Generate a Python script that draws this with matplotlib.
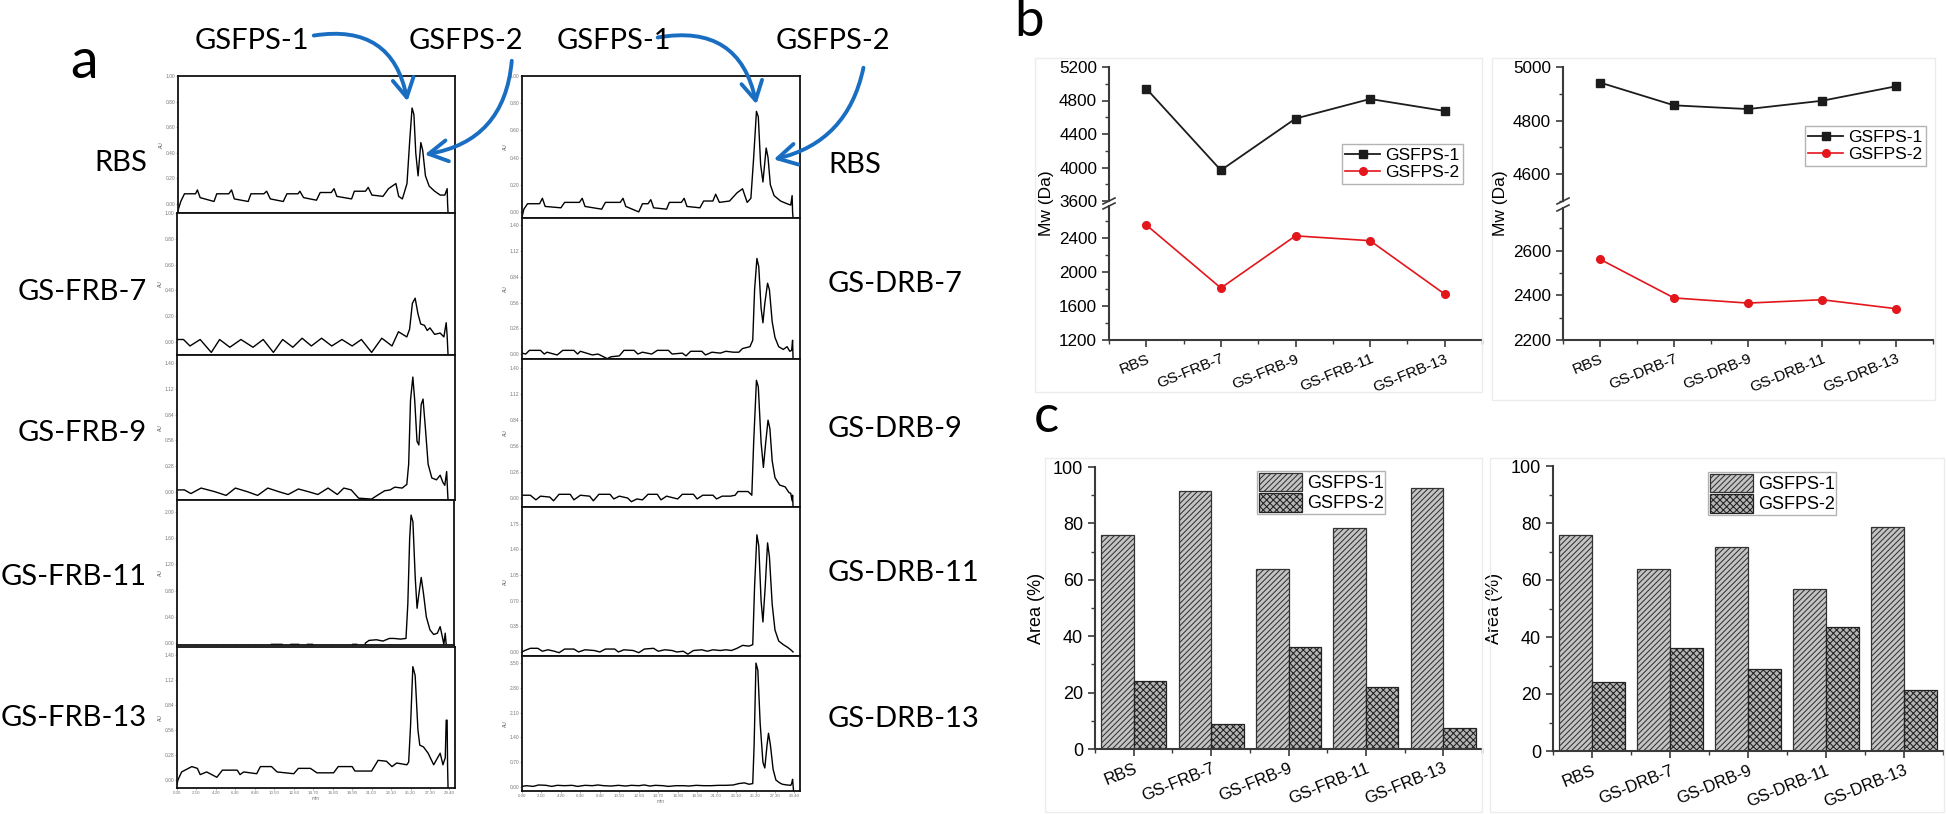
import numpy as np
import matplotlib.pyplot as plt
from matplotlib.patches import FancyArrowPatch, Rectangle
from matplotlib.lines import Line2D
from matplotlib.ticker import AutoMinorLocator, MultipleLocator

plt.rcParams['font.family'] = ['Liberation Sans', 'DejaVu Sans']
plt.rcParams['hatch.linewidth'] = 0.75

W, H = 1946, 814

# ---------- panel a: chromatograms (time in min, response in AU) ----------
frb_names = ['RBS', 'GS-FRB-7', 'GS-FRB-9', 'GS-FRB-11', 'GS-FRB-13']
drb_names = ['RBS', 'GS-DRB-7', 'GS-DRB-9', 'GS-DRB-11', 'GS-DRB-13']

rbs_frb = [(0.0, -0.05), (0.3, 0.02), (0.7, 0.08), (1.9, 0.08), (2.1, 0.11), (2.4, 0.05), (3.9, 0.02),
           (4.2, 0.08), (5.5, 0.08), (5.8, 0.11), (6.1, 0.04), (7.6, 0.02), (7.9, 0.08), (9.3, 0.08),
           (9.6, 0.10), (10.0, 0.04), (11.4, 0.02), (11.8, 0.08), (13.0, 0.08), (13.2, 0.10), (13.6, 0.05),
           (15.0, 0.03), (15.4, 0.09), (16.6, 0.09), (16.9, 0.12), (17.2, 0.06), (18.8, 0.04), (19.1, 0.10),
           (20.3, 0.10), (20.6, 0.13), (21.0, 0.07), (22.2, 0.06), (22.8, 0.12), (23.6, 0.16), (23.9, 0.06),
           (24.3, 0.04), (24.8, 0.16), (25.1, 0.50), (25.35, 0.75), (25.55, 0.70), (25.75, 0.40), (26.0, 0.22),
           (26.3, 0.48), (26.5, 0.42), (26.8, 0.22), (27.2, 0.14), (27.8, 0.10), (28.4, 0.07), (28.9, 0.07),
           (29.15, 0.12), (29.2, 0.00), (29.25, -0.07)]
frb7 = [(0.0, 0.02), (0.7, 0.02), (1.4, -0.03), (2.5, 0.02), (3.7, -0.08), (4.6, 0.02), (5.7, -0.04),
        (6.9, 0.02), (8.2, -0.04), (9.3, 0.02), (10.4, -0.08), (11.4, 0.02), (12.5, -0.04), (13.5, 0.03),
        (14.5, -0.03), (15.6, 0.03), (16.7, -0.03), (17.8, 0.02), (18.9, -0.03), (19.9, 0.02), (21.0, -0.08),
        (22.1, 0.03), (23.2, -0.03), (23.9, 0.08), (24.8, 0.04), (25.1, 0.10), (25.4, 0.30), (25.7, 0.34),
        (26.0, 0.22), (26.3, 0.14), (26.7, 0.13), (27.0, 0.09), (27.3, 0.11), (27.8, 0.06), (28.4, 0.07),
        (28.8, 0.04), (29.05, 0.15), (29.15, 0.05), (29.25, -0.10)]
frb9 = [(0.0, 0.02), (0.8, 0.02), (1.5, -0.02), (2.6, 0.04), (4.1, 0.00), (5.3, -0.04), (6.3, 0.04),
        (7.6, 0.00), (8.7, -0.04), (9.8, 0.04), (11.0, 0.00), (12.0, -0.03), (13.1, 0.03), (14.2, 0.00),
        (15.2, -0.03), (16.3, 0.04), (17.3, -0.03), (18.0, 0.04), (18.8, 0.02), (19.6, -0.07), (21.0, -0.08),
        (21.6, -0.04), (22.4, 0.01), (23.0, 0.02), (23.5, 0.05), (24.3, 0.04), (24.8, 0.08), (25.0, 0.30),
        (25.2, 1.00), (25.45, 1.25), (25.65, 1.00), (25.9, 0.55), (26.1, 0.51), (26.35, 0.95), (26.55, 1.01),
        (26.8, 0.70), (27.1, 0.30), (27.5, 0.15), (28.0, 0.13), (28.4, 0.18), (28.7, 0.10), (28.9, 0.07),
        (29.1, 0.22), (29.2, 0.00), (29.25, -0.09)]
frb11 = [(0.0, -0.20), (10.1, -0.20), (10.2, -0.02), (11.4, -0.02), (11.5, -0.20), (12.2, -0.20),
         (12.3, -0.02), (13.2, -0.02), (13.3, -0.20), (14.0, -0.20), (14.1, -0.02), (14.7, -0.02),
         (14.8, -0.20), (18.9, -0.20), (19.0, -0.02), (19.5, -0.02), (19.6, -0.20), (20.2, -0.20),
         (20.4, 0.00), (20.8, 0.04), (21.6, 0.05), (22.3, 0.03), (23.0, 0.07), (23.5, 0.07), (24.2, 0.06),
         (24.8, 0.07), (25.0, 0.60), (25.2, 1.60), (25.35, 1.95), (25.55, 1.85), (25.8, 1.00), (26.0, 0.53),
         (26.2, 0.75), (26.45, 1.00), (26.7, 0.75), (27.0, 0.40), (27.4, 0.20), (27.8, 0.13), (28.2, 0.15),
         (28.5, 0.25), (28.7, 0.12), (28.9, -0.02), (29.05, 0.15), (29.15, -0.02), (29.25, -0.10)]
frb13 = [(0.0, -0.05), (0.1, 0.00), (0.5, 0.09), (1.6, 0.15), (2.2, 0.13), (2.5, 0.06), (3.2, 0.09),
         (4.3, 0.03), (4.9, 0.11), (6.5, 0.11), (6.8, 0.06), (7.2, 0.09), (8.6, 0.07), (9.0, 0.15),
         (10.2, 0.15), (10.8, 0.09), (12.6, 0.07), (13.1, 0.13), (14.4, 0.13), (15.1, 0.08), (16.9, 0.08),
         (17.4, 0.15), (18.9, 0.15), (19.2, 0.10), (21.0, 0.10), (21.7, 0.22), (22.6, 0.21), (23.2, 0.15),
         (23.7, 0.19), (24.8, 0.17), (25.0, 0.20), (25.2, 0.60), (25.45, 1.27), (25.7, 1.17), (26.0, 0.56),
         (26.2, 0.39), (26.6, 0.37), (27.1, 0.30), (27.7, 0.17), (28.4, 0.30), (28.7, 0.17), (28.95, 0.25),
         (29.05, 0.67), (29.15, 0.67), (29.2, 0.15), (29.25, -0.09)]

rbs_drb = [(0.0, -0.04), (0.2, 0.02), (0.6, 0.06), (1.9, 0.06), (2.2, 0.10), (2.5, 0.04), (4.2, 0.03),
           (4.6, 0.07), (6.2, 0.07), (6.5, 0.10), (6.8, 0.04), (8.6, 0.02), (9.0, 0.07), (10.6, 0.07),
           (10.9, 0.10), (11.2, 0.04), (12.6, 0.00), (13.0, 0.06), (13.6, 0.06), (13.9, 0.09), (14.2, 0.03),
           (15.6, 0.02), (15.9, 0.07), (17.2, 0.07), (17.5, 0.10), (17.8, 0.04), (19.2, 0.03), (19.6, 0.08),
           (20.6, 0.08), (20.9, 0.13), (21.3, 0.07), (22.4, 0.08), (23.2, 0.14), (23.8, 0.17), (24.3, 0.07),
           (24.7, 0.10), (25.0, 0.40), (25.3, 0.74), (25.5, 0.70), (25.75, 0.35), (26.0, 0.22), (26.35, 0.47),
           (26.55, 0.40), (26.8, 0.20), (27.2, 0.12), (27.9, 0.08), (28.6, 0.06), (29.0, 0.05), (29.15, 0.12),
           (29.2, 0.00), (29.25, -0.045)]
drb7 = [(0.0, 0.01), (0.4, 0.00), (0.8, 0.04), (2.0, 0.04), (2.4, 0.00), (2.7, 0.02), (3.8, -0.01),
        (4.4, 0.04), (5.6, 0.04), (6.0, 0.00), (6.3, 0.03), (7.6, -0.01), (8.2, 0.00), (9.2, -0.05),
        (9.6, -0.03), (10.5, -0.02), (11.0, 0.04), (12.1, 0.04), (12.5, 0.00), (13.0, 0.02), (14.0, 0.00),
        (14.6, 0.04), (15.8, 0.04), (16.2, 0.00), (17.3, 0.01), (17.7, -0.02), (18.2, 0.03), (19.4, 0.03),
        (19.8, -0.01), (20.5, 0.02), (21.4, 0.01), (22.0, 0.03), (22.8, 0.02), (23.4, 0.02), (23.8, 0.06),
        (24.6, 0.08), (24.9, 0.15), (25.1, 0.70), (25.35, 1.04), (25.55, 0.95), (25.8, 0.50), (26.0, 0.34),
        (26.2, 0.55), (26.5, 0.77), (26.7, 0.70), (27.0, 0.35), (27.3, 0.18), (27.7, 0.08), (28.2, 0.05),
        (28.6, 0.08), (28.9, 0.03), (29.1, 0.04), (29.2, 0.15), (29.25, -0.05)]
drb9 = [(0.0, 0.03), (0.9, 0.03), (1.5, -0.02), (2.0, 0.02), (3.0, 0.01), (3.4, -0.03), (4.0, 0.04),
        (5.2, 0.04), (5.6, -0.02), (6.3, 0.03), (7.3, 0.02), (7.7, -0.03), (8.3, 0.04), (9.5, 0.04),
        (9.9, -0.01), (10.5, 0.02), (11.4, 0.00), (11.8, -0.04), (12.4, -0.01), (13.0, -0.02), (13.6, 0.04),
        (14.6, 0.04), (15.0, -0.02), (15.6, 0.02), (16.8, -0.01), (17.3, 0.04), (18.5, 0.04), (18.9, -0.01),
        (19.5, 0.03), (20.6, 0.03), (21.0, -0.01), (21.6, 0.02), (22.5, 0.02), (23.0, 0.03), (23.3, 0.07),
        (24.4, 0.07), (24.8, 0.03), (25.0, 0.60), (25.3, 1.27), (25.5, 1.20), (25.8, 0.60), (26.05, 0.33),
        (26.3, 0.60), (26.55, 0.84), (26.75, 0.75), (27.0, 0.40), (27.3, 0.22), (27.8, 0.14), (28.4, 0.12),
        (28.8, 0.06), (29.0, 0.05), (29.15, -0.03), (29.2, 0.03), (29.25, -0.09)]
drb11 = [(0.0, 0.00), (0.3, 0.02), (0.9, 0.05), (1.7, 0.05), (2.2, 0.01), (2.8, 0.03), (3.5, 0.01),
         (4.0, -0.01), (4.6, 0.04), (5.6, 0.04), (6.1, 0.00), (6.8, 0.03), (7.8, 0.02), (8.4, 0.00),
         (9.0, 0.04), (10.0, 0.04), (10.4, 0.00), (11.0, 0.03), (12.0, 0.02), (12.6, -0.01), (13.2, 0.04),
         (14.2, 0.05), (14.7, 0.01), (15.4, 0.03), (16.2, 0.02), (16.7, 0.00), (17.4, 0.01), (17.9, -0.03),
         (18.5, 0.02), (19.4, 0.03), (20.0, 0.01), (20.6, 0.03), (21.4, 0.02), (22.0, 0.03), (22.6, 0.02),
         (23.2, 0.05), (23.8, 0.09), (24.5, 0.08), (24.9, 0.10), (25.1, 0.90), (25.35, 1.60), (25.55, 1.45),
         (25.8, 0.70), (26.0, 0.41), (26.25, 0.90), (26.5, 1.49), (26.7, 1.30), (27.0, 0.65), (27.3, 0.30),
         (27.7, 0.15), (28.2, 0.10), (28.7, 0.06), (29.0, 0.03), (29.25, 0.00)]
drb13 = [(0.0, 0.02), (0.5, 0.04), (1.2, 0.02), (1.8, 0.06), (2.6, 0.05), (3.2, 0.02), (3.8, 0.05),
         (4.6, 0.04), (5.4, 0.05), (6.0, 0.02), (6.8, 0.05), (7.6, 0.04), (8.2, 0.06), (8.8, 0.04),
         (9.6, 0.03), (10.4, 0.05), (11.2, 0.03), (11.8, 0.05), (12.6, 0.04), (13.2, 0.06), (13.8, 0.03),
         (14.4, 0.05), (15.2, 0.04), (15.8, 0.02), (16.6, 0.04), (17.4, 0.04), (18.0, 0.03), (18.8, 0.05),
         (19.6, 0.04), (20.4, 0.04), (21.2, 0.05), (22.0, 0.05), (22.8, 0.06), (23.4, 0.10), (24.0, 0.12),
         (24.5, 0.08), (24.9, 0.10), (25.05, 1.20), (25.25, 3.50), (25.45, 3.30), (25.7, 1.80), (26.0, 0.70),
         (26.2, 0.54), (26.45, 1.20), (26.6, 1.52), (26.8, 1.20), (27.1, 0.50), (27.4, 0.20), (27.8, 0.12),
         (28.1, 0.08), (28.6, 0.06), (29.0, 0.05), (29.1, 0.10), (29.2, 0.22), (29.3, -0.10)]

frb_traces = [rbs_frb, frb7, frb9, frb11, frb13]
drb_traces = [rbs_drb, drb7, drb9, drb11, drb13]

# ---------- panel b: Mw (Da) ----------
frb_cats = ['RBS', 'GS-FRB-7', 'GS-FRB-9', 'GS-FRB-11', 'GS-FRB-13']
drb_cats = ['RBS', 'GS-DRB-7', 'GS-DRB-9', 'GS-DRB-11', 'GS-DRB-13']
mw_frb_1 = [4942, 3967, 4584, 4818, 4675]
mw_frb_2 = [2556, 1813, 2428, 2371, 1741]
mw_drb_1 = [4942, 4857, 4843, 4874, 4928]
mw_drb_2 = [2561, 2388, 2365, 2380, 2340]

# ---------- panel c: peak area (%) ----------
area_frb_1 = [75.8, 91.5, 63.7, 78.4, 92.5]
area_frb_2 = [24.2, 8.8, 36.3, 21.9, 7.4]
area_drb_1 = [75.9, 63.8, 71.6, 56.9, 78.7]
area_drb_2 = [24.3, 36.3, 28.8, 43.4, 21.3]

series = ['GSFPS-1', 'GSFPS-2']

fig = plt.figure(figsize=(W / 100, H / 100), dpi=100)


def px_axes(x0, y0, x1, y1):
    return fig.add_axes([x0 / W, 1 - y1 / H, (x1 - x0) / W, (y1 - y0) / H])


def fx(x):
    return x / W


def fy(y):
    return 1 - y / H


calibri = ['Lato', 'DejaVu Sans']

# chromatogram layout
frb_boxes = [(178, 76, 455, 213), (177, 213, 455, 355), (177, 355, 455, 500), (177, 500, 454, 645), (177, 647, 455, 788)]
drb_boxes = [(522, 76, 800, 218), (522, 218, 800, 359), (522, 359, 800, 507), (522, 507, 800, 656), (522, 656, 800, 791)]
frb_ylims = [(-0.07, 1.0), (-0.1, 1.0), (-0.09, 1.49), (-0.03, 2.18), (-0.09, 1.49)]
drb_ylims = [(-0.045, 1.0), (-0.054, 1.48), (-0.097, 1.50), (-0.055, 1.98), (-0.11, 3.70)]
frb_yt = [[0, .2, .4, .6, .8, 1.0], [0, .2, .4, .6, .8, 1.0], [0, .28, .56, .84, 1.12, 1.40],
          [0, .4, .8, 1.2, 1.6, 2.0], [0, .28, .56, .84, 1.12, 1.40]]
drb_yt = [[0, .2, .4, .6, .8, 1.0], [0, .28, .56, .84, 1.12, 1.40], [0, .28, .56, .84, 1.12, 1.40],
          [0, .35, .7, 1.05, 1.4, 1.75], [0, .7, 1.4, 2.1, 2.8, 3.5]]
frb_label_y = [163, 292, 433, 577, 718]
drb_label_y = [163, 282, 427, 571, 717]


def chrom(box, trace, ylim, yt, bottom):
    ax = px_axes(*box)
    xs = [p[0] for p in trace]
    ys = [p[1] for p in trace]
    ax.plot(xs, ys, color='black', lw=1.0)
    ax.set_xlim(0, 30)
    ax.set_ylim(*ylim)
    ax.set_yticks(yt)
    ax.set_yticklabels(['%.2f' % v for v in yt], fontsize=3.5, color='#777')
    ax.set_xticks(np.arange(0, 30.1, 2.1))
    if bottom:
        ax.set_xticklabels(['%.2f' % v for v in np.arange(0, 30.1, 2.1)], fontsize=3.2, color='#777')
        ax.set_xlabel('min', fontsize=3.5, color='#777', labelpad=1)
    else:
        ax.set_xticklabels([])
    ax.tick_params(length=1.2, width=0.4, pad=1, colors='#777')
    ax.set_ylabel('AU', fontsize=3.5, color='#555', labelpad=1)
    for s in ax.spines.values():
        s.set_linewidth(1.3)
        s.set_color('#111')
    return ax


for i in range(5):
    chrom(frb_boxes[i], frb_traces[i], frb_ylims[i], frb_yt[i], i == 4)
    chrom(drb_boxes[i], drb_traces[i], drb_ylims[i], drb_yt[i], i == 4)
    fig.text(fx(147), fy(frb_label_y[i]), frb_names[i], ha='right', va='center', fontsize=21, family=calibri)
    fig.text(fx(828), fy(drb_label_y[i] + 2), drb_names[i], ha='left', va='center', fontsize=21, family=calibri)

# peak labels and arrows
blue = '#1a6ec2'
for cx, txt in [(252, 'GSFPS-1'), (466, 'GSFPS-2'), (614, 'GSFPS-1'), (833, 'GSFPS-2')]:
    fig.text(fx(cx), fy(41), txt, ha='center', va='center', fontsize=21, family=calibri)

for (ax0, ay0, bx, by, rad) in [(311, 36, 408, 104, -0.5), (512, 58, 422, 155, -0.4),
                                (655, 38, 757, 107, -0.5), (864, 65, 771, 160, -0.33)]:
    arr = FancyArrowPatch((fx(ax0), fy(ay0)), (fx(bx), fy(by)), transform=fig.transFigure,
                          connectionstyle='arc3,rad=%s' % rad,
                          arrowstyle='->,head_length=0.75,head_width=0.42', mutation_scale=18,
                          color=blue, lw=2.8)
    fig.add_artist(arr)

# panel letters
fig.text(fx(84), fy(63), 'a', ha='center', va='center', fontsize=40, family=calibri)
fig.text(fx(1029), fy(22), 'b', ha='center', va='center', fontsize=38, family=calibri)
fig.text(fx(1046), fy(418), 'c', ha='center', va='center', fontsize=38, family=calibri)

# faint frames of the pasted sub-figures
for (x0, y0, x1, y1) in [(1035, 58, 1482, 392), (1492, 58, 1935, 400), (1045, 458, 1482, 812), (1490, 458, 1944, 812)]:
    fig.add_artist(Rectangle((fx(x0), fy(y1)), (x1 - x0) / W, (y1 - y0) / H, transform=fig.transFigure,
                             fill=False, edgecolor='#ececec', lw=1.0))


def style_axis(ax):
    for s in ['top', 'right']:
        ax.spines[s].set_visible(False)
    for s in ['left', 'bottom']:
        ax.spines[s].set_linewidth(1.5)
        ax.spines[s].set_color('#3a3a3a')
    ax.tick_params(which='major', direction='out', length=5, width=1.2, color='#3a3a3a')
    ax.tick_params(which='minor', direction='out', length=3, width=1.0, color='#3a3a3a')


def mw_panel(x0, x1, y_top, y_up, y_lo, y_bot, up_lim, lo_lim, up_step, lo_step, cats, s1, s2, leg):
    idx = np.arange(len(cats))
    ax_u = px_axes(x0, y_top, x1, y_up)
    ax_l = px_axes(x0, y_lo, x1, y_bot)
    for ax in (ax_u, ax_l):
        ax.patch.set_alpha(0)
        ax.plot(idx, s1, '-s', color='#1c1c1c', ms=5.5, lw=1.3, label=series[0])
        ax.plot(idx, s2, '-o', color='#e3161c', ms=5.5, lw=1.2, label=series[1])
        ax.set_xlim(-0.5, 4.5)
        style_axis(ax)
        ax.tick_params(labelsize=12.3)
    ax_u.set_ylim(*up_lim)
    ax_l.set_ylim(*lo_lim)
    ax_u.yaxis.set_major_locator(MultipleLocator(up_step))
    ax_l.yaxis.set_major_locator(MultipleLocator(lo_step))
    ax_u.yaxis.set_minor_locator(AutoMinorLocator(2))
    ax_l.yaxis.set_minor_locator(AutoMinorLocator(2))
    ax_u.spines['bottom'].set_visible(False)
    ax_u.set_xticks([])
    ax_l.set_xticks(idx)
    ax_l.set_xticklabels(cats, rotation=22, ha='right', rotation_mode='anchor', fontsize=11)
    ax_l.xaxis.set_minor_locator(AutoMinorLocator(2))
    # axis break marks
    for yy in (y_up, y_lo):
        fig.add_artist(Line2D([fx(x0 - 6), fx(x0 + 6)], [fy(yy + 3), fy(yy - 3)],
                              transform=fig.transFigure, color='#3a3a3a', lw=1.2))
    fig.text(fx(x0 - 62), fy((y_top + y_bot) / 2), 'Mw (Da)', rotation=90, ha='center', va='center', fontsize=12.5)
    ax_u.legend(loc='upper left', bbox_to_anchor=(fx(leg[0]), fy(leg[1])), bbox_transform=fig.transFigure,
                fontsize=12.5, frameon=True, fancybox=False, edgecolor='#a0a0a0', borderaxespad=0,
                handlelength=2.0, handletextpad=0.3, borderpad=0.2, labelspacing=0.15, numpoints=1)


mw_panel(1109, 1482, 67, 201, 206, 340, (3600, 5200), (1200, 2780), 400, 400,
         frb_cats, mw_frb_1, mw_frb_2, (1342, 144))
mw_panel(1563, 1933, 67, 201, 208, 340, (4500, 5000), (2200, 2790), 200, 200,
         drb_cats, mw_drb_1, mw_drb_2, (1805, 126))


def area_panel(x0, x1, y0, y1, cats, s1, s2, leg):
    ax = px_axes(x0, y0, x1, y1)
    ax.patch.set_alpha(0)
    idx = np.arange(len(cats))
    w = 0.42
    ax.bar(idx - w / 2, s1, w, facecolor='#c4c4c4', edgecolor='#333333', hatch='//////', lw=0.9, label=series[0])
    ax.bar(idx + w / 2, s2, w, facecolor='#b4b4b4', edgecolor='#222222', hatch='xxxxx', lw=0.9, label=series[1])
    ax.set_xlim(-0.5, 4.5)
    ax.set_ylim(0, 100)
    ax.yaxis.set_major_locator(MultipleLocator(20))
    ax.yaxis.set_minor_locator(AutoMinorLocator(2))
    ax.set_xticks(idx)
    ax.set_xticklabels(cats, rotation=22, ha='right', rotation_mode='anchor', fontsize=12)
    ax.xaxis.set_minor_locator(AutoMinorLocator(2))
    style_axis(ax)
    ax.tick_params(axis='y', labelsize=13)
    ax.set_ylabel('Area (%)', fontsize=13, labelpad=6)
    ax.legend(loc='upper left', bbox_to_anchor=(fx(leg[0]), fy(leg[1])), bbox_transform=fig.transFigure,
              fontsize=13, frameon=True, fancybox=False, edgecolor='#a0a0a0', borderaxespad=0,
              handlelength=2.4, handleheight=1.2, handletextpad=0.25, borderpad=0.1, labelspacing=0.05)


area_panel(1095, 1482, 467, 749, frb_cats, area_frb_1, area_frb_2, (1257, 471))
area_panel(1553, 1943, 466, 751, drb_cats, area_drb_1, area_drb_2, (1708, 472))

fig.savefig('out.png', dpi=100)
